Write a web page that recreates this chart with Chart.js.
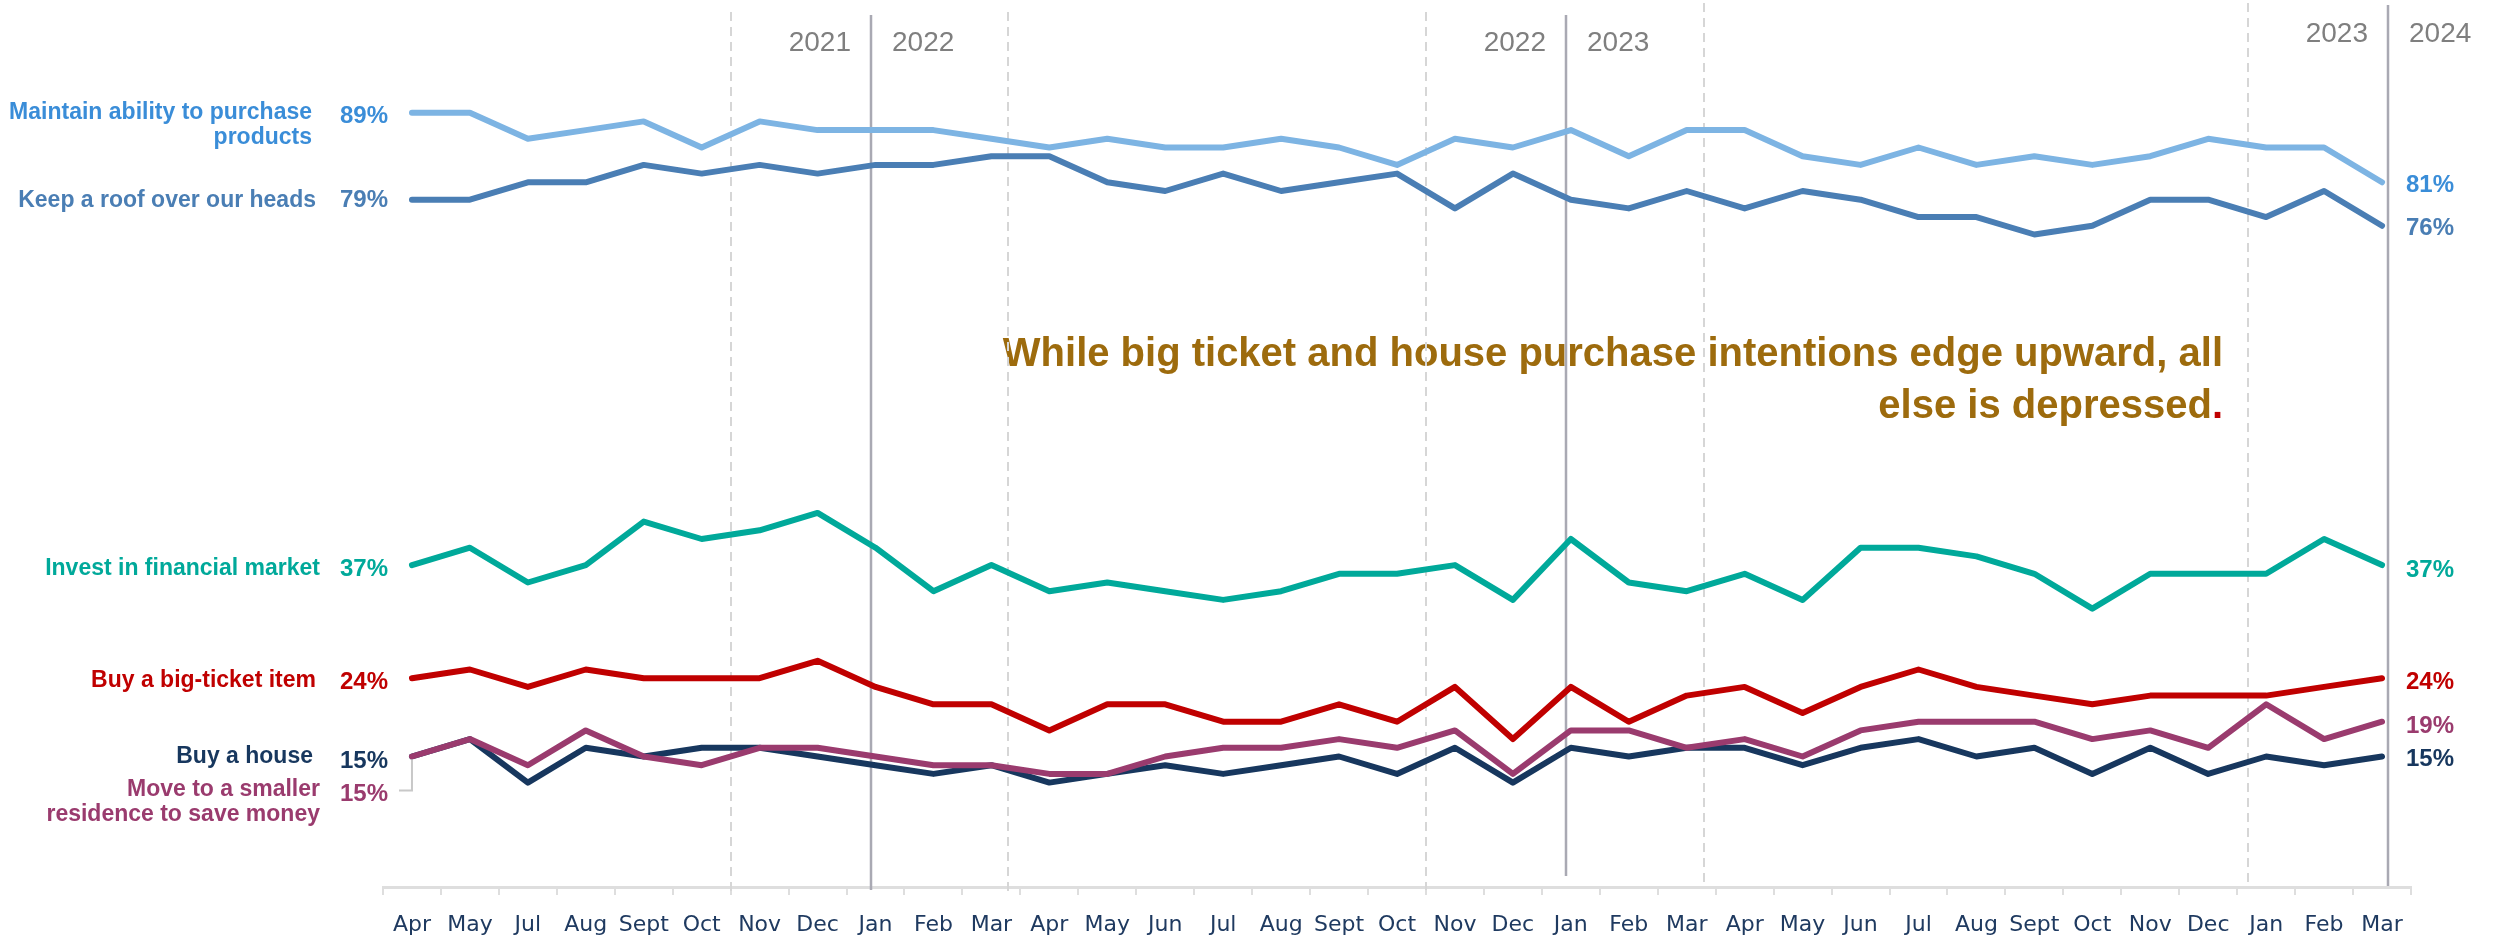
<!DOCTYPE html>
<html><head><meta charset="utf-8">
<script src="https://cdn.jsdelivr.net/npm/chart.js@4/dist/chart.umd.min.js"></script>
<style>html,body{margin:0;padding:0;background:#fff;overflow:hidden}canvas{display:block}</style>
</head><body>
<canvas id="c" width="2503" height="938"></canvas>
<script>
// ---- data ----
const months = ['Apr','May','Jul','Aug','Sept','Oct','Nov','Dec',
  'Jan','Feb','Mar','Apr','May','Jun','Jul','Aug','Sept','Oct','Nov','Dec',
  'Jan','Feb','Mar','Apr','May','Jun','Jul','Aug','Sept','Oct','Nov','Dec',
  'Jan','Feb','Mar'];
const maintainAbility = [89,89,86,87,88,85,88,87, 87,87,86,85,86,85,85,86,85,83,86,85, 87,84,87,87,84,83,85,83,84,83,84,86, 85,85,81];
const keepRoof        = [79,79,81,81,83,82,83,82, 83,83,84,84,81,80,82,80,81,82,78,82, 79,78,80,78,80,79,77,77,75,76,79,79, 77,80,76];
const investFinancial = [37,39,35,37,42,40,41,43, 39,34,37,34,35,34,33,34,36,36,37,33, 40,35,34,36,33,39,39,38,36,32,36,36, 36,40,37];
const bigTicket       = [24,25,23,25,24,24,24,26, 23,21,21,18,21,21,19,19,21,19,23,17, 23,19,22,23,20,23,25,23,22,21,22,22, 22,23,24];
const buyHouse        = [15,17,12,16,15,16,16,15, 14,13,14,12,13,14,13,14,15,13,16,12, 16,15,16,16,14,16,17,15,16,13,16,13, 15,14,15];
const moveSmaller     = [15,17,14,18,15,14,16,16, 15,14,14,13,13,15,16,16,17,16,18,13, 18,18,16,17,15,18,19,19,19,17,18,16, 21,17,19];
const seriesNames = ['Maintain ability to purchase products','Keep a roof over our heads','Invest in financial market','Buy a big-ticket item','Move to a smaller residence to save money','Buy a house'];
const yearLeft  = ['2021','2022','2023'];
const yearRight = ['2022','2023','2024'];
const note1 = 'While big ticket and house purchase intentions edge upward, all';
const note2 = 'else is depressed';

// ---- styling / decoration ----
const C = {
  maintainLine:'#7db4e3', maintainText:'#3a8dd8',
  roof:'#4a7eb4', invest:'#00a99a', big:'#c00000', house:'#17375e', move:'#9a3b6e',
  axis:'#dedede', year:'#7f7f7f', solid:'#a9a9b3', dashed:'#d6d6d6', note:'#9d6b0d', tick:'#1f3a60'
};
const dividers = [ {at:7.92, top:15, bottom:890, yl:43, li:0}, {at:19.92, top:15, bottom:876, yl:43, li:1}, {at:34.11, top:5, bottom:886, yl:34, li:2} ];
const dashedAt = [ {at:5.51, top:12, bottom:897}, {at:10.29, top:12, bottom:897}, {at:17.5, top:12, bottom:890}, {at:22.29, top:3, bottom:882}, {at:31.69, top:3, bottom:888} ];

const BOLD = 'bold 23px "Liberation Sans", Arial, sans-serif';
const VBOLD = 'bold 24px "Liberation Sans", Arial, sans-serif';
const leftLabels = [
  {ds:0, lines:['Maintain ability to purchase','products'], dy:[0,25], vdy:4, rx:312, color:C.maintainText, vcolor:C.maintainText},
  {ds:1, lines:['Keep a roof over our heads'], dy:[1], vdy:1, rx:316, color:C.roof, vcolor:C.roof},
  {ds:2, lines:['Invest in financial market'], dy:[4], vdy:4, rx:320, color:C.invest, vcolor:C.invest},
  {ds:3, lines:['Buy a big-ticket item'], dy:[2], vdy:4, rx:316, color:C.big, vcolor:C.big},
  {ds:5, lines:['Buy a house'], dy:[0], vdy:5, rx:313, color:C.house, vcolor:C.house},
  {ds:4, lines:['Move to a smaller','residence to save money'], dy:[33,58], vdy:38, rx:320, color:C.move, vcolor:C.move, leader:true}
];
const rightOffsets = [3,3,5,4,5,3];

const overlay = {
  id:'overlay',
  beforeDatasetsDraw(chart){
    const ctx = chart.ctx, xs = chart.scales.x;
    ctx.save();
    ctx.textBaseline = 'middle';
    ctx.font = 'bold 40px "Liberation Sans", Arial, sans-serif';
    ctx.fillStyle = C.note; ctx.textAlign = 'right';
    ctx.fillText(note1, 2223, 355);
    const dotW = ctx.measureText('.').width;
    ctx.fillText(note2, 2223 - dotW, 407);
    ctx.fillStyle = C.big; ctx.fillText('.', 2223, 407);
    ctx.strokeStyle = C.dashed; ctx.lineWidth = 2; ctx.setLineDash([9,6]);
    dashedAt.forEach(d => { const x = Math.round(xs.getPixelForValue(d.at)); ctx.beginPath(); ctx.moveTo(x, d.top); ctx.lineTo(x, d.bottom); ctx.stroke(); });
    ctx.setLineDash([]);
    ctx.strokeStyle = C.solid; ctx.lineWidth = 2.5;
    ctx.font = '28px "Liberation Sans", Arial, sans-serif'; ctx.fillStyle = C.year;
    dividers.forEach(d => {
      const x = Math.round(xs.getPixelForValue(d.at));
      ctx.beginPath(); ctx.moveTo(x, d.top); ctx.lineTo(x, d.bottom); ctx.stroke();
      ctx.textAlign = 'right'; ctx.fillText(yearLeft[d.li], x - 20, d.yl);
      ctx.textAlign = 'left'; ctx.fillText(yearRight[d.li], x + 21, d.yl);
    });
    ctx.restore();
  },
  afterDatasetsDraw(chart){
    const ctx = chart.ctx, xs = chart.scales.x, ys = chart.scales.y;
    ctx.save();
    ctx.textBaseline = 'middle';
    const n = months.length;
    leftLabels.forEach(l => {
      const data = chart.data.datasets[l.ds].data;
      const y0 = ys.getPixelForValue(data[0]);
      ctx.font = BOLD; ctx.fillStyle = l.color; ctx.textAlign = 'right';
      l.lines.forEach((t,i) => ctx.fillText(t, l.rx, y0 + l.dy[i]));
      ctx.font = VBOLD; ctx.fillStyle = l.vcolor;
      ctx.fillText(data[0] + '%', 388, y0 + l.vdy);
      if (l.leader) {
        const x0 = xs.getPixelForValue(0);
        ctx.strokeStyle = '#c8c8c8'; ctx.lineWidth = 2;
        ctx.beginPath(); ctx.moveTo(399, y0 + l.vdy - 4); ctx.lineTo(x0, y0 + l.vdy - 4); ctx.lineTo(x0, y0 + 3); ctx.stroke();
      }
    });
    ctx.font = VBOLD; ctx.textAlign = 'left';
    chart.data.datasets.forEach((ds, i) => {
      const v = ds.data[n-1];
      ctx.fillStyle = ds.labelColor;
      ctx.fillText(v + '%', 2406, ys.getPixelForValue(v) + rightOffsets[i]);
    });
    ctx.restore();
  }
};

const mk = (label, data, color, labelColor) => ({label, data, borderColor: color, labelColor, borderWidth: 6, pointRadius: 0, tension: 0, fill: false, borderJoinStyle: 'round', borderCapStyle: 'round'});

new Chart(document.getElementById('c'), {
  type: 'line',
  data: {
    labels: months,
    datasets: [
      mk(seriesNames[0], maintainAbility, C.maintainLine, C.maintainText),
      mk(seriesNames[1], keepRoof, C.roof, C.roof),
      mk(seriesNames[2], investFinancial, C.invest, C.invest),
      mk(seriesNames[3], bigTicket, C.big, C.big),
      mk(seriesNames[4], moveSmaller, C.move, C.move),
      mk(seriesNames[5], buyHouse, C.house, C.house)
    ]
  },
  options: {
    responsive: false, animation: false, devicePixelRatio: 1,
    layout: { padding: { left: 383, right: 92, top: 17, bottom: 0 } },
    plugins: { legend: { display: false }, tooltip: { enabled: false } },
    scales: {
      x: {
        offset: true,
        grid: { display: true, drawOnChartArea: false, offset: true, tickLength: 8, color: C.axis, lineWidth: 2 },
        border: { display: true, color: C.axis, width: 3 },
        ticks: { color: C.tick, font: { family: '"DejaVu Sans", sans-serif', size: 22 }, padding: 17, maxRotation: 0, autoSkip: false },
        afterFit: s => { s.height = 51; }
      },
      y: { display: false, min: 0, max: 100 }
    }
  },
  plugins: [overlay]
});
</script>
</body></html>
